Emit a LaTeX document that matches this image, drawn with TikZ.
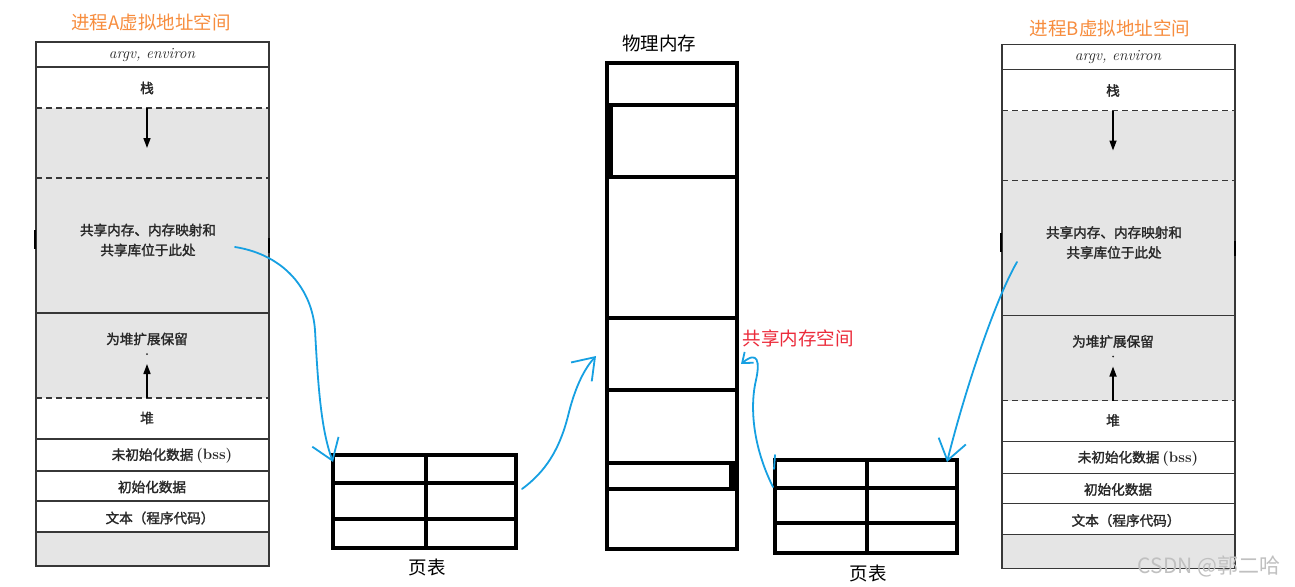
\documentclass[tikz,border=0pt]{standalone}
\usepackage{fontspec}
\newfontfamily\cjk{Noto Sans CJK SC}
\newfontfamily\cjkb[FakeBold=1.8]{Noto Sans CJK SC}
\usetikzlibrary{arrows.meta}
\definecolor{orangeT}{RGB}{247,141,62}
\definecolor{blueA}{RGB}{22,160,226}
\definecolor{redT}{RGB}{236,42,58}
\definecolor{graybg}{RGB}{229,229,229}
\definecolor{colline}{RGB}{55,55,55}
\definecolor{ctext}{RGB}{40,40,40}
\definecolor{wm}{RGB}{192,192,192}
\tikzset{
 ttl/.style={font=\cjk\fontsize{18.5}{20}\selectfont, text=orangeT, inner sep=0pt},
 txtl/.style={font=\cjk\fontsize{18.5}{20}\selectfont, text=black, inner sep=0pt},
 ctxt/.style={font=\cjkb\fontsize{13.6}{20}\selectfont, text=ctext, inner sep=0pt},
 colborder/.style={draw=colline, line width=1.4pt},
 colsep/.style={draw=colline, line width=1.3pt},
 coldash/.style={draw=colline, line width=1.3pt, dash pattern=on 6pt off 4pt},
 pmblock/.style={draw=black, line width=3.5pt, minimum width=130pt, inner sep=0pt, outer sep=0pt},
 ptbox/.style={draw=black, line width=3.5pt, inner sep=0pt, outer sep=0pt},
 ptline/.style={draw=black, line width=3.5pt},
 bluelink/.style={draw=blueA, line width=1.8pt, line cap=round, line join=round},
 blueend/.style={-{Straight Barb[length=20pt,width=28pt,line width=1.8pt]}},
 bluesmall/.style={-{Straight Barb[length=9pt,width=14pt,line width=1.8pt]}},
 growarrow/.style={draw=black, line width=1.6pt, -{Triangle[length=10pt,width=7pt]}},
}
\newcommand\procspace[1]{%
 \fill[graybg] (36,108) rectangle (269,398);
 \fill[graybg] (36,532) rectangle (269,566);
 \draw[colsep] (36,67) -- (269,67);
 \draw[coldash] (36,108) -- (269,108);
 \draw[coldash] (36,178) -- (269,178);
 \draw[colsep] (36,313) -- (269,313);
 \draw[coldash] (36,398) -- (269,398);
 \foreach \yy in {439,471,501,532} {\draw[colsep] (36,\yy) -- (269,\yy);}
 \draw[colborder] (36,42) rectangle (269,566);
 \draw[black, line width=2.5pt] (35,230) -- (35,249);
 \draw[black, line width=2.5pt] (269,238) -- (269,253);
 \node[font=\itshape\fontsize{15.5}{17}\selectfont, text=ctext, inner sep=0pt] (#1argv) at (152,55) {argv, environ};
 \node[ctxt] (#1stack) at (147,88) {栈};
 \coordinate (#1sd0) at (147,108);
 \coordinate (#1sd1) at (147,148);
 \draw[growarrow] (#1sd0) -- (#1sd1);
 \node[ctxt, align=center] (#1shared) at (148,240) {共享内存、内存映射和\\共享库位于此处};
 \node[ctxt] (#1reserve) at (147,339) {为堆扩展保留};
 \fill[ctext] (147,354) circle (1pt);
 \coordinate (#1hu0) at (147,398);
 \coordinate (#1hu1) at (147,364);
 \draw[growarrow] (#1hu0) -- (#1hu1);
 \node[ctxt] (#1heap) at (147,418) {堆};
 \node[ctxt] (#1bss) at (172,456) {未初始化数据 {\rmfamily\bfseries\fontsize{15}{17}\selectfont(bss)}};
 \node[ctxt] (#1data) at (152,487) {初始化数据};
 \node[ctxt] (#1text) at (160,518) {文本（程序代码）};
}
\begin{document}
\begin{tikzpicture}[x=1pt,y=-1pt]
\useasboundingbox (0,0) rectangle (1295,586);
\fill[white] (0,0) rectangle (1295,586);

% process A
\node[ttl] (tA) at (151,22) {进程A虚拟地址空间};
\procspace{A}
% process B
\node[ttl] (tB) at (1110,28) {进程B虚拟地址空间};
\begin{scope}[shift={(966,2.5)}]
\procspace{B}
\end{scope}

% physical memory
\node[txtl] (pmlabel) at (659,43) {物理内存};
\node[pmblock, minimum height=42pt] (pm1) at (672,84) {};
\node[pmblock, minimum height=72pt] (pm2) at (672,141) {};
\node[pmblock, minimum height=141pt] (pm3) at (672,247.5) {};
\node[pmblock, minimum height=72pt] (pm4) at (672,354) {};
\node[pmblock, minimum height=73pt] (pm5) at (672,426.5) {};
\node[pmblock, minimum height=26pt] (pm6) at (672,476) {};
\node[pmblock, minimum height=60pt] (pm7) at (672,519) {};
\fill[black] (607,105) rectangle (613,177);
\fill[black] (729,463) rectangle (736,489);
\node[txtl, text=redT] (shlabel) at (798,338) {共享内存空间};

% page tables
\node[ptbox, minimum width=183pt, minimum height=93pt] (ptA) at (424.5,501.5) {};
\draw[ptline] (426,455) -- (426,548);
\draw[ptline] (331,483) -- (518,483);
\draw[ptline] (331,519) -- (518,519);
\node[txtl] (ptAlabel) at (427,567) {页表};

\node[ptbox, minimum width=182pt, minimum height=93pt] (ptB) at (866,506.5) {};
\draw[ptline] (867,460) -- (867,553);
\draw[ptline] (773,488) -- (959,488);
\draw[ptline] (773,523) -- (959,523);
\node[txtl] (ptBlabel) at (868,573) {页表};

% blue hand-drawn links
\coordinate (a0) at (235,247);
\coordinate (a1) at (333,462);
\draw[bluelink, blueend] (a0) .. controls (285,255) and (312,290) .. (315,330) .. controls (318,385) and (321,430) .. (a1);
\coordinate (b0) at (522,489);
\coordinate (b1) at (596,356);
\draw[bluelink, blueend] (b0) .. controls (545,472) and (560,450) .. (569,412) .. controls (576,385) and (585,368) .. (b1);
\coordinate (c0) at (773,487);
\coordinate (c1) at (741,364);
\draw[bluelink, bluesmall] (c0) .. controls (752,445) and (750,405) .. (756,380) .. controls (760,362) and (758,350) .. (c1);
\coordinate (c2) at (775,455);
\coordinate (c3) at (774,469);
\draw[bluelink] (c2) -- (c3);
\coordinate (d0) at (1017,262);
\coordinate (d1) at (947,462);
\draw[bluelink, blueend] (d0) .. controls (995,300) and (965,390) .. (d1);

% watermark
\node[font=\cjk\fontsize{21}{23}\selectfont, text=wm, inner sep=0pt] (wmk) at (1209,566) {CSDN @郭二哈};
\end{tikzpicture}
\end{document}
